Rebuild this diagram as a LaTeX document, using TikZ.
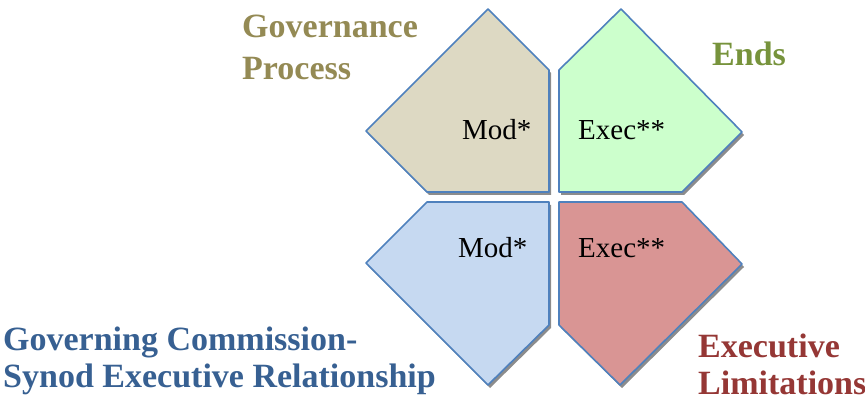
\documentclass[tikz,border=0pt]{standalone}
\usepackage{fontspec}
\setmainfont{Liberation Serif}
\usepackage{xcolor}
\usepackage{tikz}
\usetikzlibrary{positioning,calc}

\definecolor{petalline}{HTML}{4F81BD}
\definecolor{govfill}{HTML}{DDD9C3}
\definecolor{endsfill}{HTML}{CCFFCC}
\definecolor{relfill}{HTML}{C6D9F1}
\definecolor{limfill}{HTML}{D99594}
\definecolor{govtext}{HTML}{948A54}
\definecolor{endstext}{HTML}{77933C}
\definecolor{reltext}{HTML}{376092}
\definecolor{limtext}{HTML}{953735}

\tikzset{
  petal/.style={draw=petalline, line width=1.6pt, line join=round},
  petalshadow/.style={fill=black!45, draw=none, xshift=2pt, yshift=-3pt},
  tag/.style={font=\fontsize{29}{34}\selectfont, anchor=base west, inner sep=0pt},
  heading/.style={font=\fontsize{34}{36}\selectfont\bfseries, anchor=base west, inner sep=0pt, align=left}
}

\begin{document}
\begin{tikzpicture}[x=1pt,y=-1pt]
        \useasboundingbox (0,0) rectangle (865,395);

        % Top left petal (Governance Process)
        \fill[petalshadow] (488,9) -- (549,70) -- (549,192) -- (427,192) -- (366,131) -- cycle;
        \draw[petal, fill=govfill] (488,9) -- (549,70) -- (549,192) -- (427,192) -- (366,131) -- cycle;
        \node[tag] (govmod) at (462,140) {Mod*};

        % Top right petal (Ends)
        \fill[petalshadow] (621,9) -- (742,132) -- (682,192) -- (559,192) -- (559,70) -- cycle;
        \draw[petal, fill=endsfill] (621,9) -- (742,132) -- (682,192) -- (559,192) -- (559,70) -- cycle;
        \node[tag] (endsexec) at (578,140) {Exec**};

        % Bottom left petal (Relationship)
        \fill[petalshadow] (427,202) -- (549,202) -- (549,325) -- (488,385) -- (366,263) -- cycle;
        \draw[petal, fill=relfill] (427,202) -- (549,202) -- (549,325) -- (488,385) -- (366,263) -- cycle;
        \node[tag] (relmod) at (458,258) {Mod*};

        % Bottom right petal (Executive Limitations)
        \fill[petalshadow] (559,202) -- (682,202) -- (742,264) -- (620,385) -- (559,325) -- cycle;
        \draw[petal, fill=limfill] (559,202) -- (682,202) -- (742,264) -- (620,385) -- (559,325) -- cycle;
        \node[tag] (limexec) at (578,258) {Exec**};

        % Headings (anchored at the baseline of their last line)
        \node[heading, text=govtext, font=\fontsize{34}{42}\selectfont\bfseries] (govtitle) at (242,80) {Governance\\Process};
        \node[heading, text=endstext] (endstitle) at (712,66) {Ends};
        \node[heading, text=reltext] (reltitle) at (3,387) {Governing Commission-\\Synod Executive Relationship};
        \node[heading, text=limtext] (limtitle) at (698,394) {Executive\\Limitations};

      \end{tikzpicture}
\end{document}
